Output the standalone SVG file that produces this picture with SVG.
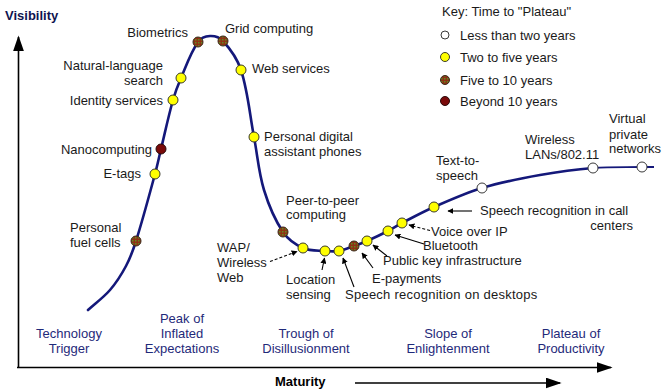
<svg xmlns="http://www.w3.org/2000/svg" width="664" height="392" viewBox="0 0 664 392">
<style>
text{font-family:"Liberation Sans",Arial,sans-serif;font-size:13px;fill:#1a1a1a}
.e{text-anchor:end}
.m{text-anchor:middle}
.ph{fill:#1f2a7a}
.b{font-weight:bold}
.ax{stroke:#000;stroke-width:1.6;fill:none}
.curve{stroke:#14187a;stroke-width:2.6;fill:none;stroke-linecap:round;stroke-linejoin:round}
.ptr{stroke:#000;stroke-width:1.1;fill:none;marker-end:url(#ah)}
.dash{stroke-dasharray:3 2}
.y{fill:#ffff00;stroke:#3a3a2a;stroke-width:1}
.w{fill:#fff;stroke:#3a3a3a;stroke-width:1}
.br{fill:url(#chk);stroke:#3a2a1a;stroke-width:1}
.dr{fill:#7a0a0a;stroke:#2a0a0a;stroke-width:1}
</style>
<defs>
<marker id="ah" viewBox="0 0 10 10" refX="9" refY="5" markerWidth="6" markerHeight="6" orient="auto" markerUnits="userSpaceOnUse"><path d="M0,0 L10,5 L0,10 Z" fill="#000"/></marker>
<marker id="big" viewBox="0 0 10 10" refX="9" refY="5" markerWidth="16" markerHeight="11" orient="auto" markerUnits="userSpaceOnUse" preserveAspectRatio="none"><path d="M0,0 L10,5 L0,10 Z" fill="#000"/></marker>
<pattern id="chk" width="3" height="3" patternUnits="userSpaceOnUse"><rect width="3" height="3" fill="#8e3214"/><rect x="0" y="0" width="1.5" height="1.5" fill="#5f8a24"/></pattern>
</defs>
<rect width="664" height="392" fill="#fff"/>
<g id="axes">
<path class="ax" d="M18.5,367.5 L18.5,37" marker-end="url(#big)"/>
<path class="ax" d="M17,367.5 L611,367.5" marker-end="url(#big)"/>
<path class="ax" d="M355,383 L560,383" marker-end="url(#big)"/>
<text class="b" x="5" y="20" style="fill:#101450">Visibility</text>
<text class="b" x="275" y="386" style="fill:#000">Maturity</text>
</g>
<g id="phases">
<text class="m ph" x="69" y="338">Technology</text>
<text class="m ph" x="69" y="353">Trigger</text>
<text class="m ph" x="182" y="323">Peak of</text>
<text class="m ph" x="182" y="338">Inflated</text>
<text class="m ph" x="182" y="353">Expectations</text>
<text class="m ph" x="306" y="338">Trough of</text>
<text class="m ph" x="306" y="353">Disillusionment</text>
<text class="m ph" x="448" y="338">Slope of</text>
<text class="m ph" x="448" y="353">Enlightenment</text>
<text class="m ph" x="571" y="338">Plateau of</text>
<text class="m ph" x="571" y="353">Productivity</text>
</g>
<g id="curve">
<path class="curve" d="M88,310 C95.33,303.33 103.52,297.5 110,290 C116.28,282.73 121.49,274.49 126,266 C130.21,258.07 133.3,249.57 136,241 C142.99,218.86 148.92,196.4 155,174 C157.25,165.73 158.98,157.33 161,149 C164.97,132.65 168.44,116.2 173,100 C175.11,92.49 177.91,85.16 181,78 C186.25,65.82 190.46,52.92 198,42 C200.54,38.32 205.53,36.18 210,36 C214.64,35.81 219.87,37.57 223,41 C230.67,49.41 237.51,59.17 241,70 C247.98,91.66 249.72,114.66 254,137 C257.38,154.66 258.75,172.81 264,190 C268.49,204.69 274.42,219.24 283,232 C287.77,239.09 295.22,244.48 303,248 C309.74,251.05 317.62,250.39 325,251 C329.66,251.39 334.4,251.79 339,251 C344.19,250.1 349.04,247.77 354,246 C358.37,244.44 362.75,242.87 367,241 C374.09,237.87 381.11,234.54 388,231 C392.77,228.55 397.24,225.49 402,223 C412.58,217.48 423.07,211.78 434,207 C449.76,200.1 465.53,192.97 482,188 C500.96,182.27 520.51,178.51 540,175 C557.53,171.85 575.23,169.39 593,168"/>
<path d="M593,168 C609.29,166.73 625.66,167.26 642,167 L654,167" stroke="#14187a" stroke-width="1.8" fill="none"/>
</g>
<g id="connectors">
<path class="ptr dash" d="M270,261.5 L297,251.5"/>
<path class="ptr" d="M322,270 L324.5,258"/>
<path class="ptr" d="M354,287 L343,258"/>
<path class="ptr" d="M373,268 L362,253"/>
<path class="ptr" d="M387,256 L373,245"/>
<path class="ptr" d="M424,244 L395,235"/>
<path class="ptr dash" d="M430,230.5 L409,225"/>
<path class="ptr" d="M472,211 L448,211"/>
</g>
<g id="key">
<text x="442" y="16">Key: Time to "Plateau"</text>
<circle class="w" cx="445" cy="35" r="4"/><text x="460" y="40">Less than two years</text>
<circle class="y" cx="445" cy="57" r="4.5"/><text x="460" y="62">Two to five years</text>
<circle class="br" cx="445" cy="80" r="4.5"/><text x="460" y="85">Five to 10 years</text>
<circle class="dr" cx="445" cy="101" r="4.5"/><text x="460" y="106">Beyond 10 years</text>
</g>
<g id="n-fuelcells"><circle class="br" cx="136" cy="241" r="5"/><text x="70" y="232">Personal</text><text x="70" y="247">fuel cells</text></g>
<g id="n-etags"><circle class="y" cx="155" cy="174" r="5"/><text class="e" x="141" y="178">E-tags</text></g>
<g id="n-nano"><circle class="dr" cx="161" cy="149" r="5"/><text class="e" x="152" y="154">Nanocomputing</text></g>
<g id="n-identity"><circle class="y" cx="173" cy="100" r="5"/><text class="e" x="163" y="105">Identity services</text></g>
<g id="n-nls"><circle class="y" cx="181" cy="78" r="5"/><text class="e" x="163" y="70">Natural-language</text><text class="e" x="163" y="85">search</text></g>
<g id="n-biometrics"><circle class="br" cx="198" cy="42" r="5"/><text class="e" x="188" y="37">Biometrics</text></g>
<g id="n-grid"><circle class="br" cx="223" cy="41" r="5"/><text x="225" y="33">Grid computing</text></g>
<g id="n-web"><circle class="y" cx="241" cy="70" r="5"/><text x="252" y="73">Web services</text></g>
<g id="n-pda"><circle class="y" cx="254" cy="137" r="5"/><text x="264" y="141">Personal digital</text><text x="264" y="156">assistant phones</text></g>
<g id="n-p2p"><circle class="br" cx="283" cy="232" r="5"/><text x="286" y="205">Peer-to-peer</text><text x="286" y="219">computing</text></g>
<g id="n-wap"><circle class="y" cx="303" cy="248" r="5"/><text x="217" y="252">WAP/</text><text x="217" y="267">Wireless</text><text x="217" y="282">Web</text></g>
<g id="n-location"><circle class="y" cx="325" cy="251" r="5"/><text x="286" y="284">Location</text><text x="286" y="299">sensing</text></g>
<g id="n-srdesk"><circle class="y" cx="339" cy="251" r="5"/><text x="345" y="299" style="letter-spacing:0.25px">Speech recognition on desktops</text></g>
<g id="n-epay"><circle class="br" cx="354" cy="246" r="5"/><text x="372" y="283">E-payments</text></g>
<g id="n-pki"><circle class="y" cx="367" cy="241" r="5"/><text x="383" y="265">Public key infrastructure</text></g>
<g id="n-bluetooth"><circle class="y" cx="388" cy="231" r="5"/><text x="423" y="250">Bluetooth</text></g>
<g id="n-voip"><circle class="y" cx="402" cy="223" r="5"/><text x="431" y="236">Voice over IP</text></g>
<g id="n-srcall"><circle class="y" cx="434" cy="207" r="5"/><text x="480" y="215">Speech recognition in call</text><text class="e" x="633" y="230">centers</text></g>
<g id="n-tts"><circle class="w" cx="482" cy="188" r="5"/><text x="436" y="165">Text-to-</text><text x="436" y="180">speech</text></g>
<g id="n-wlan"><circle class="w" cx="593" cy="168" r="5"/><text x="525" y="144">Wireless</text><text x="525" y="159">LANs/802.11</text></g>
<g id="n-vpn"><circle class="w" cx="642" cy="167" r="5"/><text x="609" y="123">Virtual</text><text x="609" y="139">private</text><text x="609" y="153">networks</text></g>
</svg>
